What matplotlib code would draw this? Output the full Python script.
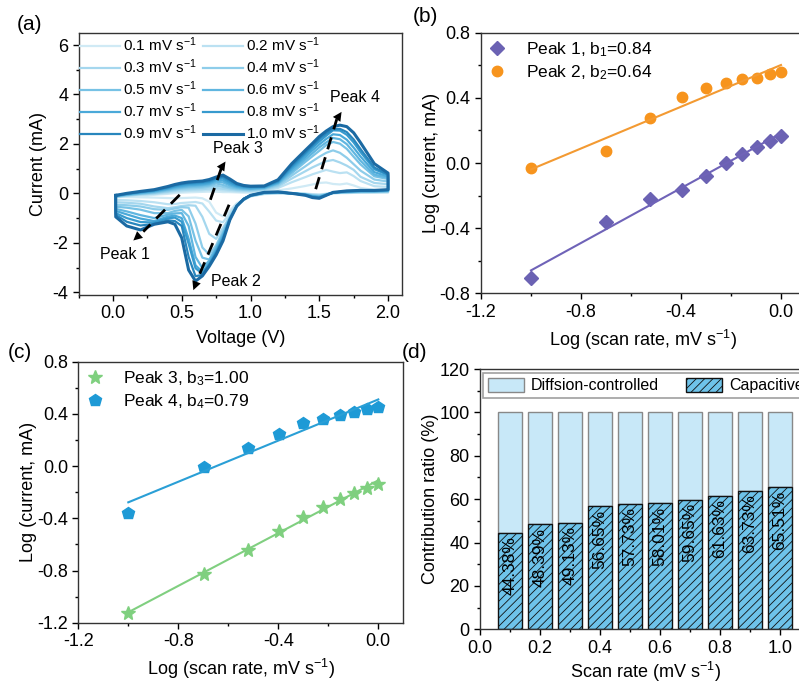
import numpy as np
import matplotlib
matplotlib.use('Agg')
import matplotlib.pyplot as plt
from matplotlib.ticker import MultipleLocator

plt.rcParams['font.family'] = ['Liberation Sans', 'DejaVu Sans']
plt.rcParams['mathtext.fontset'] = 'custom'
plt.rcParams['mathtext.rm'] = 'Liberation Sans'
plt.rcParams['mathtext.it'] = 'Liberation Sans:italic'
plt.rcParams['axes.unicode_minus'] = False
plt.rcParams['hatch.linewidth'] = 0.6

# ---- (a) CV curves, current (mA) on a shared voltage grid
voltage = [0.02, 0.1, 0.2, 0.3, 0.4, 0.45, 0.5, 0.55, 0.6, 0.65, 0.7, 0.75, 0.8, 0.85, 0.9, 0.95,
           1.0, 1.1, 1.2, 1.3, 1.4, 1.45, 1.5, 1.55, 1.6, 1.65, 1.7, 1.75, 1.8, 1.9, 2.0]
scan_rates = ['0.1', '0.2', '0.3', '0.4', '0.5', '0.6', '0.7', '0.8', '0.9', '1.0']

# anodic sweep (upper branch), one row per scan rate
i_ox = [
    [-0.16, -0.13, -0.09, -0.06, -0.02, 0.01, 0.03, 0.04, 0.05, 0.06, 0.07, 0.07, 0.05, 0.05, 0.04, 0.03,
     0.03, 0.06, 0.12, 0.20, 0.30, 0.36, 0.42, 0.44, 0.38, 0.36, 0.40, 0.32, 0.22, 0.14, 0.12],
    [-0.15, -0.11, -0.06, -0.03, 0.02, 0.06, 0.08, 0.10, 0.11, 0.12, 0.14, 0.15, 0.12, 0.10, 0.08, 0.07,
     0.07, 0.10, 0.22, 0.45, 0.66, 0.77, 0.86, 0.95, 0.88, 0.82, 0.85, 0.70, 0.50, 0.29, 0.26],
    [-0.14, -0.09, -0.04, -0.01, 0.06, 0.10, 0.13, 0.15, 0.16, 0.17, 0.20, 0.22, 0.18, 0.15, 0.12, 0.11,
     0.10, 0.14, 0.28, 0.60, 0.90, 1.05, 1.18, 1.30, 1.35, 1.25, 1.12, 0.95, 0.67, 0.42, 0.37],
    [-0.13, -0.08, -0.02, 0.02, 0.09, 0.14, 0.18, 0.20, 0.21, 0.23, 0.27, 0.31, 0.26, 0.20, 0.16, 0.14,
     0.13, 0.17, 0.33, 0.72, 1.10, 1.30, 1.48, 1.64, 1.74, 1.64, 1.44, 1.18, 0.92, 0.56, 0.48],
    [-0.12, -0.06, -0.01, 0.04, 0.13, 0.18, 0.22, 0.25, 0.26, 0.28, 0.32, 0.40, 0.34, 0.25, 0.20, 0.17,
     0.16, 0.20, 0.38, 0.82, 1.28, 1.50, 1.72, 1.95, 2.08, 2.01, 1.80, 1.48, 1.17, 0.69, 0.58],
    [-0.11, -0.05, 0.01, 0.07, 0.16, 0.22, 0.26, 0.29, 0.31, 0.33, 0.37, 0.47, 0.44, 0.32, 0.24, 0.20,
     0.18, 0.22, 0.41, 0.90, 1.38, 1.62, 1.86, 2.06, 2.24, 2.19, 1.99, 1.66, 1.32, 0.76, 0.63],
    [-0.10, -0.04, 0.03, 0.09, 0.19, 0.26, 0.30, 0.34, 0.35, 0.37, 0.41, 0.53, 0.52, 0.38, 0.28, 0.23,
     0.21, 0.24, 0.44, 0.98, 1.48, 1.74, 1.98, 2.20, 2.39, 2.36, 2.17, 1.85, 1.49, 0.86, 0.68],
    [-0.10, -0.02, 0.05, 0.11, 0.22, 0.29, 0.35, 0.38, 0.40, 0.42, 0.46, 0.58, 0.60, 0.45, 0.32, 0.27,
     0.25, 0.26, 0.47, 1.05, 1.58, 1.85, 2.10, 2.33, 2.55, 2.54, 2.37, 2.06, 1.67, 0.98, 0.74],
    [-0.09, -0.01, 0.06, 0.13, 0.25, 0.33, 0.38, 0.42, 0.44, 0.46, 0.50, 0.62, 0.67, 0.52, 0.36, 0.29,
     0.27, 0.28, 0.50, 1.12, 1.66, 1.93, 2.20, 2.42, 2.60, 2.61, 2.48, 2.18, 1.79, 1.05, 0.76],
    [-0.08, 0.00, 0.08, 0.15, 0.28, 0.36, 0.42, 0.46, 0.48, 0.50, 0.56, 0.66, 0.74, 0.58, 0.40, 0.32,
     0.29, 0.30, 0.55, 1.20, 1.75, 2.02, 2.30, 2.52, 2.70, 2.76, 2.70, 2.45, 2.05, 1.20, 0.82],
]

# cathodic sweep (lower branch), same grid
i_red = [
    [-0.15, -0.15, -0.16, -0.17, -0.19, -0.20, -0.19, -0.18, -0.17, -0.20, -0.34, -0.78, -0.93, -0.70, -0.40, -0.25,
     -0.12, -0.03, -0.01, 0.00, -0.01, -0.03, -0.04, -0.02, 0.00, 0.01, 0.01, 0.02, 0.02, 0.03, 0.03],
    [-0.27, -0.28, -0.31, -0.36, -0.44, -0.43, -0.39, -0.37, -0.35, -0.41, -0.74, -1.10, -1.17, -0.80, -0.44, -0.27,
     -0.12, -0.02, 0.00, 0.00, -0.02, -0.04, -0.06, -0.02, 0.01, 0.02, 0.02, 0.03, 0.03, 0.04, 0.05],
    [-0.36, -0.38, -0.42, -0.53, -0.60, -0.56, -0.51, -0.48, -0.50, -0.95, -1.64, -1.84, -1.40, -0.92, -0.47, -0.27,
     -0.11, -0.01, 0.02, 0.00, -0.03, -0.06, -0.08, -0.03, 0.01, 0.02, 0.03, 0.04, 0.05, 0.05, 0.06],
    [-0.46, -0.48, -0.53, -0.64, -0.67, -0.61, -0.56, -0.58, -1.22, -2.19, -2.48, -2.10, -1.52, -0.95, -0.49, -0.26,
     -0.10, 0.00, 0.03, 0.00, -0.03, -0.08, -0.10, -0.04, 0.02, 0.03, 0.04, 0.05, 0.06, 0.06, 0.08],
    [-0.54, -0.58, -0.66, -0.80, -0.80, -0.71, -0.67, -0.93, -1.91, -2.60, -2.68, -2.18, -1.60, -0.98, -0.50, -0.25,
     -0.10, 0.01, 0.03, 0.00, -0.04, -0.09, -0.11, -0.05, 0.02, 0.04, 0.05, 0.06, 0.07, 0.07, 0.09],
    [-0.63, -0.73, -0.88, -1.00, -0.86, -0.81, -0.80, -1.32, -2.57, -3.02, -2.72, -2.24, -1.66, -1.00, -0.50, -0.24,
     -0.09, 0.02, 0.04, 0.00, -0.05, -0.11, -0.13, -0.05, 0.02, 0.05, 0.06, 0.07, 0.08, 0.08, 0.10],
    [-0.71, -0.85, -1.02, -1.12, -0.94, -0.90, -1.00, -1.84, -2.91, -3.18, -2.82, -2.32, -1.74, -1.02, -0.50, -0.23,
     -0.09, 0.03, 0.04, 0.00, -0.05, -0.12, -0.15, -0.06, 0.03, 0.05, 0.07, 0.08, 0.09, 0.09, 0.12],
    [-0.80, -1.00, -1.16, -1.18, -1.01, -0.98, -1.15, -2.04, -3.03, -3.25, -2.87, -2.38, -1.80, -1.04, -0.50, -0.22,
     -0.08, 0.03, 0.05, 0.00, -0.06, -0.13, -0.16, -0.07, 0.03, 0.06, 0.08, 0.09, 0.10, 0.10, 0.13],
    [-0.87, -1.15, -1.30, -1.24, -1.09, -1.12, -1.32, -2.57, -3.35, -3.30, -2.90, -2.42, -1.85, -1.05, -0.51, -0.22,
     -0.08, 0.04, 0.05, 0.00, -0.07, -0.15, -0.18, -0.07, 0.03, 0.06, 0.09, 0.10, 0.11, 0.11, 0.14],
    [-0.95, -1.32, -1.48, -1.25, -1.15, -1.25, -1.80, -3.10, -3.55, -3.34, -2.95, -2.49, -1.92, -1.07, -0.52, -0.24,
     -0.08, 0.04, 0.06, 0.00, -0.08, -0.17, -0.20, -0.08, 0.04, 0.07, 0.10, 0.11, 0.12, 0.12, 0.15],
]
cv_colors = ['#d0eaf5', '#bbe1f2', '#a5d7ee', '#8ecdea', '#77c2e5', '#60b6e0', '#4aa9d9', '#379ace', '#2886bd', '#1b6aa3']

# ---- (b)/(c) log(peak current) vs log(scan rate)
log_rate = [-1.0, -0.699, -0.523, -0.398, -0.301, -0.222, -0.155, -0.097, -0.046, 0.0]
peak1 = [-0.704, -0.360, -0.221, -0.166, -0.078, -0.002, 0.055, 0.100, 0.135, 0.168]
peak2 = [-0.033, 0.076, 0.274, 0.407, 0.458, 0.489, 0.514, 0.524, 0.546, 0.557]
peak3 = [-1.124, -0.830, -0.643, -0.498, -0.393, -0.316, -0.252, -0.209, -0.166, -0.138]
peak4 = [-0.357, -0.010, 0.140, 0.243, 0.327, 0.360, 0.391, 0.417, 0.434, 0.450]

# ---- (d) contribution ratio
rate = [0.1, 0.2, 0.3, 0.4, 0.5, 0.6, 0.7, 0.8, 0.9, 1.0]
capacitive = [44.38, 48.39, 49.13, 56.65, 57.73, 58.01, 59.65, 61.63, 63.73, 65.51]

W, H = 799, 683
fig = plt.figure(figsize=(W / 100, H / 100), dpi=100)


def box(l, t, r, b):
    return [l / W, 1 - b / H, (r - l) / W, (b - t) / H]


def style(ax):
    for s in ax.spines.values():
        s.set_linewidth(1.0)
        s.set_color('#333333')
    ax.tick_params(which='both', direction='out', top=False, right=False, labelsize=13, width=1)
    ax.tick_params(which='major', length=4)
    ax.tick_params(which='minor', length=2.5)


ax_a = fig.add_axes(box(78.6, 32.7, 401.8, 294.7))
ax_b = fig.add_axes(box(481, 32.7, 806, 293.3))
ax_c = fig.add_axes(box(78.3, 361.7, 403.3, 622.7))
ax_d = fig.add_axes(box(480, 369, 810, 629.3))
for ax in (ax_a, ax_b, ax_c, ax_d):
    style(ax)

# (a)
cv_lines = []
for k in range(len(scan_rates)):
    x = voltage + voltage[::-1] + [voltage[0]]
    y = i_ox[k] + i_red[k][::-1] + [i_ox[k][0]]
    ln, = ax_a.plot(x, y, color=cv_colors[k], lw=2.2 if k == 9 else 1.6,
                    label=scan_rates[k] + ' mV s$^{-1}$', solid_joinstyle='round')
    cv_lines.append(ln)
ax_a.set_xlim(-0.25, 2.1)
ax_a.set_ylim(-4.1, 6.5)
ax_a.xaxis.set_major_locator(MultipleLocator(0.5))
ax_a.xaxis.set_minor_locator(MultipleLocator(0.25))
ax_a.yaxis.set_major_locator(MultipleLocator(2))
ax_a.yaxis.set_minor_locator(MultipleLocator(1))
ax_a.set_xlabel('Voltage (V)', fontsize=13, labelpad=6)
ax_a.set_ylabel('Current (mA)', fontsize=13, labelpad=4)
# legend filled row by row: reorder so columns come out 0.1/0.2, 0.3/0.4, ...
order = [0, 2, 4, 6, 8, 1, 3, 5, 7, 9]
ax_a.legend([cv_lines[i] for i in order], [cv_lines[i].get_label() for i in order],
            ncol=2, loc='upper left', bbox_to_anchor=(0.0, 0.995), frameon=False, fontsize=11,
            handlelength=2.6, handletextpad=0.2, columnspacing=0.4, labelspacing=0.22,
            borderpad=0.1, borderaxespad=0.0)

# dashed guide arrows for the four peaks
guides = [((0.485, -0.06), (0.22, -1.55), (0.133, -1.98), 'Peak 1', (0.09, -2.48)),
          ((0.844, -0.46), (0.62, -3.40), (0.577, -4.02), 'Peak 2', (0.892, -3.58)),
          ((0.708, -0.26), (0.79, 1.05), (0.829, 1.38), 'Peak 3', (0.909, 1.82)),
          ((1.474, 0.17), (1.627, 3.0), (1.673, 3.39), 'Peak 4', (1.762, 3.88))]
for start, end, tip, name, pos in guides:
    ax_a.plot([start[0], end[0]], [start[1], end[1]], color='k', lw=2, dashes=(4.5, 3))
    ax_a.annotate('', xy=tip, xytext=end,
                  arrowprops=dict(arrowstyle='-|>', color='k', lw=0.01, mutation_scale=16))
    ax_a.text(pos[0], pos[1], name, fontsize=11.5, ha='center', va='center')

# (b), (c)
x_fit = np.array([log_rate[0], log_rate[-1]])
for ax, pairs in ((ax_b, [(peak1, 'D', '#6b62b3', '#6f63b8', 'Peak 1, b$_1$=0.84', 7),
                          (peak2, 'o', '#f7941d', '#f39a32', 'Peak 2, b$_2$=0.64', 7.5)]),
                  (ax_c, [(peak3, '*', '#7fd07f', '#80cf80', 'Peak 3, b$_3$=1.00', 10),
                          (peak4, 'p', '#1e9ad6', '#2a9fd6', 'Peak 4, b$_4$=0.79', 9)])):
    for ys, mk, mc, lc, lab, ms in pairs:
        ax.plot(log_rate, ys, ls='none', marker=mk, color=mc, ms=ms, label=lab)
        slope, icpt = np.polyfit(log_rate, ys, 1)
        ax.plot(x_fit, slope * x_fit + icpt, color=lc, lw=1.5)
    ax.set_xlim(-1.2, 0.1)
    ax.xaxis.set_major_locator(MultipleLocator(0.4))
    ax.xaxis.set_minor_locator(MultipleLocator(0.2))
    ax.yaxis.set_major_locator(MultipleLocator(0.4))
    ax.yaxis.set_minor_locator(MultipleLocator(0.2))
    ax.set_xlabel('Log (scan rate, mV s$^{-1}$)', fontsize=13, labelpad=5)
    ax.set_ylabel('Log (current, mA)', fontsize=13, labelpad=0)
    ax.legend(loc='upper left', frameon=False, fontsize=12.5, handlelength=1.0, handletextpad=1.15,
              labelspacing=0.25, borderaxespad=0.05)
ax_b.set_ylim(-0.8, 0.8)
ax_c.set_ylim(-1.2, 0.8)

# (d)
diffusion = [100 - c for c in capacitive]
ax_d.bar(rate, diffusion, width=0.08, bottom=capacitive, color='#c8e8f8', edgecolor='#888888',
         lw=1, label='Diffsion-controlled')
ax_d.bar(rate, capacitive, width=0.08, color='#6ec3ea', edgecolor='#111111', lw=1, hatch='////',
         label='Capacitive')
for r, c in zip(rate, capacitive):
    ax_d.text(r, c - 1.5, f'{c:.2f}%', rotation=90, ha='center', va='top', fontsize=12.5)
ax_d.set_xlim(0, 1.1)
ax_d.set_ylim(0, 120)
ax_d.xaxis.set_major_locator(MultipleLocator(0.2))
ax_d.xaxis.set_minor_locator(MultipleLocator(0.1))
ax_d.yaxis.set_major_locator(MultipleLocator(20))
ax_d.yaxis.set_minor_locator(MultipleLocator(10))
ax_d.set_xlabel('Scan rate (mV s$^{-1}$)', fontsize=13, labelpad=2)
ax_d.set_ylabel('Contribution ratio (%)', fontsize=13, labelpad=0)
leg = ax_d.legend(ncol=2, loc='upper left', bbox_to_anchor=(0.01, 0.985), fontsize=11.5, fancybox=False,
                  handlelength=2.25, handleheight=1.0, handletextpad=0.4, columnspacing=1.75,
                  borderpad=0.3, borderaxespad=0.0)
leg.get_frame().set_edgecolor('#888888')
leg.get_frame().set_linewidth(1.2)

# panel letters
for lab, px, py in (('(a)', 17, 25), ('(b)', 413, 17), ('(c)', 8, 352), ('(d)', 402, 352)):
    fig.text(px / W, 1 - py / H, lab, fontsize=15, ha='left', va='center')

fig.savefig('out.png', dpi=100)
